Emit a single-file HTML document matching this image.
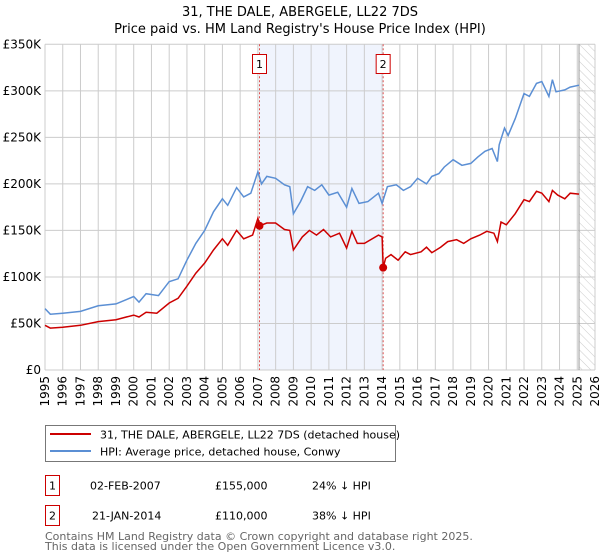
<!DOCTYPE html>
<html><head><meta charset="utf-8"><style>
body{margin:0;background:#fff;}
svg{display:block;font-family:"DejaVu Sans","Liberation Sans",sans-serif;}
</style></head><body>
<svg id="chart" width="600" height="560" viewBox="0 0 600 560">
<text x="300" y="16" text-anchor="middle" font-size="13">31, THE DALE, ABERGELE, LL22 7DS</text>
<text x="300" y="33" text-anchor="middle" font-size="13">Price paid vs. HM Land Registry's House Price Index (HPI)</text>
<g id="grid"></g>
<g id="plot"></g>
<g>
<rect x="45.5" y="425.5" width="350" height="36" fill="#fff" stroke="#777"/>
<line x1="50" y1="434" x2="91" y2="434" stroke="#cc0000" stroke-width="2"/>
<text x="100" y="438.5" font-size="11">31, THE DALE, ABERGELE, LL22 7DS (detached house)</text>
<line x1="50" y1="451" x2="91" y2="451" stroke="#5b8fd4" stroke-width="2"/>
<text x="100" y="455.5" font-size="11">HPI: Average price, detached house, Conwy</text>
</g>
<g font-size="11">
<rect x="45.5" y="475.5" width="14" height="20" fill="#fff" stroke="#cc0000"/>
<text x="52.5" y="489.5" text-anchor="middle">1</text>
<text x="90" y="489.5">02-FEB-2007</text>
<text x="215" y="489.5">£155,000</text>
<text x="312" y="489.5">24% ↓ HPI</text>
<rect x="45.5" y="505.5" width="14" height="20" fill="#fff" stroke="#cc0000"/>
<text x="52.5" y="519.5" text-anchor="middle">2</text>
<text x="92" y="519.5">21-JAN-2014</text>
<text x="215" y="519.5">£110,000</text>
<text x="312" y="519.5">38% ↓ HPI</text>
</g>
<text x="45" y="540" font-size="11" fill="#666">Contains HM Land Registry data © Crown copyright and database right 2025.</text>
<text x="45" y="550" font-size="11" fill="#666">This data is licensed under the Open Government Licence v3.0.</text>
</svg>
<script>
const hpiYears=[1995,1995.3,1996,1997,1998,1999,2000,2000.3,2000.7,2001.4,2002,2002.5,2003,2003.5,2004,2004.5,2005,2005.3,2005.8,2006.2,2006.6,2007.0,2007.2,2007.5,2008,2008.5,2008.8,2009.0,2009.4,2009.8,2010.2,2010.6,2011.0,2011.5,2012,2012.3,2012.7,2013.2,2013.8,2014,2014.3,2014.8,2015.2,2015.6,2016,2016.5,2016.8,2017.2,2017.5,2018,2018.5,2019,2019.4,2019.8,2020.2,2020.5,2020.6,2020.9,2021.1,2021.5,2022,2022.3,2022.7,2023.0,2023.4,2023.6,2023.8,2024.3,2024.6,2025.1];
const hpiValues=[66,60,61,63,69,71,79,73,82,80,95,98,118,136,150,170,184,177,196,186,190,213,200,208,206,199,197,168,181,197,193,199,188,191,175,195,179,181,190,179,197,199,193,197,206,200,208,211,218,226,220,222,229,235,238,224,242,260,252,270,297,294,308,310,294,312,299,301,304,306];
const propYears=[1995,1995.3,1996,1997,1998,1999,2000,2000.3,2000.7,2001.3,2002,2002.5,2003,2003.5,2004,2004.5,2005,2005.3,2005.8,2006.2,2006.7,2007.0,2007.09,2007.5,2008,2008.5,2008.8,2009,2009.5,2009.9,2010.3,2010.7,2011.1,2011.6,2012,2012.3,2012.6,2013,2013.8,2014.0,2014.06,2014.2,2014.5,2014.9,2015.3,2015.6,2016.2,2016.5,2016.8,2017.3,2017.7,2018.2,2018.6,2019,2019.5,2019.9,2020.3,2020.5,2020.7,2021,2021.5,2022,2022.3,2022.7,2023,2023.4,2023.6,2023.9,2024.3,2024.6,2025.1];
const propValues=[48,45,46,48,52,54,59,57,62,61,72,77,90,104,115,129,141,134,150,141,145,163,155,158,158,151,150,129,143,150,145,151,143,147,131,149,136,136,145,143,110,120,124,118,127,124,127,132,126,132,138,140,136,141,145,149,147,138,159,156,168,183,181,192,190,181,193,188,184,190,189];
const saleYears=[2007.09,2014.06];
const saleValues=[155,110];
const saleLabels=["1","2"];
const yTicks=[0,50,100,150,200,250,300,350];
const yTickLabels=["£0","£50K","£100K","£150K","£200K","£250K","£300K","£350K"];
const xTicks=[1995,1996,1997,1998,1999,2000,2001,2002,2003,2004,2005,2006,2007,2008,2009,2010,2011,2012,2013,2014,2015,2016,2017,2018,2019,2020,2021,2022,2023,2024,2025,2026];

const NS="http://www.w3.org/2000/svg";
const L=45,R=595,T=44.3,B=370;
const xS=y=>L+(y-1995)/(2026-1995)*(R-L);
const yS=v=>B-v/350*(B-T);
function mk(tag,attrs,parent){const e=document.createElementNS(NS,tag);for(const k in attrs)e.setAttribute(k,attrs[k]);parent.appendChild(e);return e;}
const grid=document.getElementById('grid'),plot=document.getElementById('plot');
// shaded region & hatch
const shade=mk('rect',{x:xS(saleYears[0]),y:T,width:xS(saleYears[1])-xS(saleYears[0]),height:B-T,fill:'#f0f4fd'},grid);


const defs=mk('defs',{},grid);
const pat=mk('pattern',{id:'hatch',width:6,height:6,patternUnits:'userSpaceOnUse',patternTransform:'rotate(-45)'},defs);
mk('line',{x1:0,y1:0,x2:0,y2:6,stroke:'#ccc','stroke-width':1},pat);
const hatch=mk('rect',{x:xS(2025.1),y:T,width:R-xS(2025.1),height:B-T,fill:'url(#hatch)'},grid);


xTicks.forEach(t=>{
  mk('line',{x1:xS(t),y1:T,x2:xS(t),y2:B,stroke:'#ccc','stroke-width':1},grid);
  const tx=mk('text',{x:0,y:0,'font-size':12,'text-anchor':'end',transform:`translate(${xS(t)+4},${B+6}) rotate(-90)`},grid);
  tx.textContent=t;
  
  
});
yTicks.forEach((t,i)=>{
  mk('line',{x1:L,y1:yS(t),x2:R,y2:yS(t),stroke:'#ccc','stroke-width':1},grid);
  const tx=mk('text',{x:L-4,y:yS(t)+4,'font-size':12,'text-anchor':'end'},grid);
  tx.textContent=yTickLabels[i];
  
  
});
mk('line',{x1:xS(2025.1),y1:T,x2:xS(2025.1),y2:B,stroke:'#999','stroke-width':1},grid);
saleYears.forEach((y,i)=>{
  const ln=mk('line',{x1:xS(y),y1:T,x2:xS(y),y2:B,stroke:'#dd5555','stroke-width':1,'stroke-dasharray':'2,2'},grid);
  
  
  const g=mk('g',{},grid);
  
  
  mk('rect',{x:xS(y)-7,y:54.5,width:14,height:19,fill:'#fff',stroke:'#cc0000'},g);
  const t=mk('text',{x:xS(y),y:68,'font-size':11,'text-anchor':'middle'},g);t.textContent=saleLabels[i];
});
const pts=(xs,vs)=>xs.map((x,i)=>xS(x).toFixed(1)+','+yS(vs[i]).toFixed(1)).join(' ');
const hl=mk('polyline',{points:pts(hpiYears,hpiValues),fill:'none',stroke:'#5b8fd4','stroke-width':1.5},plot);


const pl=mk('polyline',{points:pts(propYears,propValues),fill:'none',stroke:'#cc0000','stroke-width':1.5},plot);


saleYears.forEach((y,i)=>{
  const c=mk('circle',{cx:xS(y),cy:yS(saleValues[i]),r:4,fill:'#cc0000'},plot);
  
  
});
</script>
</body></html>
